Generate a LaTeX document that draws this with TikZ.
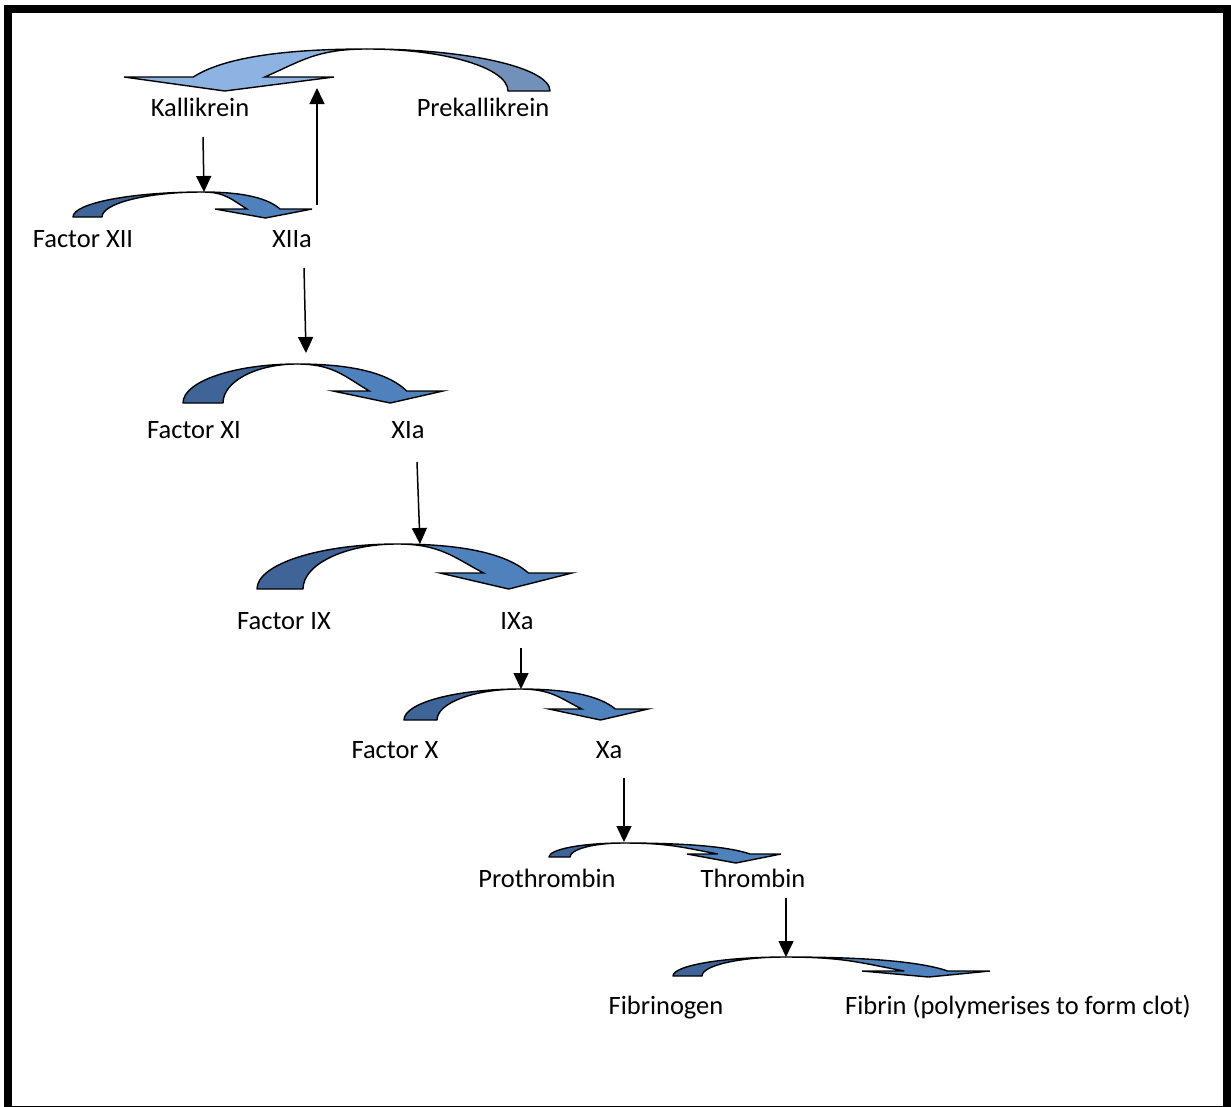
\documentclass[tikz,border=0pt]{standalone}
\usepackage{fontspec}
\setmainfont{Carlito}
\usetikzlibrary{arrows.meta}
\definecolor{backblue}{HTML}{3F6598}
\definecolor{frontblue}{HTML}{4F81BD}
\definecolor{lightfront}{HTML}{8DB3E2}
\definecolor{lightback}{HTML}{7191BA}
\tikzset{
  lbl/.style={anchor=base, inner sep=0pt, font=\fontsize{26.5}{30}\selectfont},
  conn/.style={line width=1.5pt, -{Triangle[width=15pt,length=16pt]}},
  backpart/.style={fill=backblue, draw=black, line width=1.4pt, line join=round},
  frontpart/.style={fill=frontblue, draw=black, line width=1.4pt, line join=miter},
}
% #1 outer base x, #2 inner base x, #3 base y, #4 peak x, #5 peak y,
% #6 barb y, #7 near barb x, #8 far barb x, #9 tip y
\newcommand\cvarrow[9]{%
  \pgfmathsetmacro\cvRo{#7+0.67*(#8-#7)}%
  \pgfmathsetmacro\cvRi{#7+0.33*(#8-#7)}%
  \pgfmathsetmacro\cvTx{#7+0.52*(#8-#7)}%
  \draw[backpart] (#1,#3)
    .. controls (#1,{#3-0.552*(#3-#5)}) and ({#4-0.552*(#4-#1)},#5) .. (#4,#5)
    .. controls ({#4-0.552*(#4-#2)},#5) and (#2,{#3-0.552*(#3-#5)}) .. (#2,#3) -- cycle;
  \draw[frontpart] (#4,#5)
    .. controls ({#4+0.55*(\cvRo-#4)},#5) and ({\cvRo-0.15*(\cvRo-#4)},{#6-0.6*(#6-#5)}) .. (\cvRo,#6)
    -- (#8,#6) -- (\cvTx,#9) -- (#7,#6) -- (\cvRi,#6)
    .. controls ({\cvRi-0.35*(\cvRi-#4)},{#6-0.55*(#6-#5)}) and ({#4+0.5*(\cvRi-#4)},#5) .. (#4,#5) -- cycle;
}
\begin{document}
\begin{tikzpicture}[x=1pt,y=-1pt]
\useasboundingbox (0,0) rectangle (1231,1106);
\clip (0,0) rectangle (1231,1106);
\draw[line width=8pt] (8,9) rectangle (1227,1110);

% curved conversion arrows
\begin{scope}[backpart/.append style={fill=lightback}, frontpart/.append style={fill=lightfront}]
\cvarrow{550}{508}{91}{367}{49}{77}{334}{124}{91}
\end{scope}
\cvarrow{73}{102}{217}{203}{192}{209}{215}{312}{218}
\cvarrow{183}{223}{403}{297}{364}{391}{333}{443}{403}
\cvarrow{257}{303}{589}{397}{544}{573}{440}{572}{589}
\cvarrow{404}{437}{720}{520}{689}{709}{549}{648}{720}
\cvarrow{549}{570}{857}{623}{843}{854}{687}{781}{863}
\cvarrow{673}{702}{976}{785}{957}{971}{862}{990}{977}

% labels
\node[lbl] (kal)  at (200,116) {Kallikrein};
\node[lbl] (pkal) at (483,116) {Prekallikrein};
\node[lbl] (f12)  at (83,247) {Factor XII};
\node[lbl] (f12a) at (292,247) {XIIa};
\node[lbl] (f11)  at (194,438) {Factor XI};
\node[lbl] (f11a) at (408,438) {XIa};
\node[lbl] (f9)   at (284,629) {Factor IX};
\node[lbl] (f9a)  at (517,629) {IXa};
\node[lbl] (f10)  at (395,758) {Factor X};
\node[lbl] (f10a) at (609,758) {Xa};
\node[lbl] (pth)  at (547,887) {Prothrombin};
\node[lbl] (th)   at (753,887) {Thrombin};
\node[lbl] (fbg)  at (666,1014) {Fibrinogen};
\node[lbl] (fb)   at (1018,1014) {Fibrin (polymerises to form clot)};

% connector end points
\coordinate (a1s) at (203,137); \coordinate (a1e) at (204,192);
\coordinate (a2s) at (317,205); \coordinate (a2e) at (317,88);
\coordinate (a3s) at (304,268); \coordinate (a3e) at (306,353);
\coordinate (a4s) at (417,462); \coordinate (a4e) at (420,544);
\coordinate (a5s) at (521,648); \coordinate (a5e) at (521,689);
\coordinate (a6s) at (624,778); \coordinate (a6e) at (624,842);
\coordinate (a7s) at (786,898); \coordinate (a7e) at (786,957);

\draw[conn] (a1s) -- (a1e);
\draw[conn] (a2s) -- (a2e);
\draw[conn] (a3s) -- (a3e);
\draw[conn] (a4s) -- (a4e);
\draw[conn] (a5s) -- (a5e);
\draw[conn] (a6s) -- (a6e);
\draw[conn] (a7s) -- (a7e);
\end{tikzpicture}
\end{document}
